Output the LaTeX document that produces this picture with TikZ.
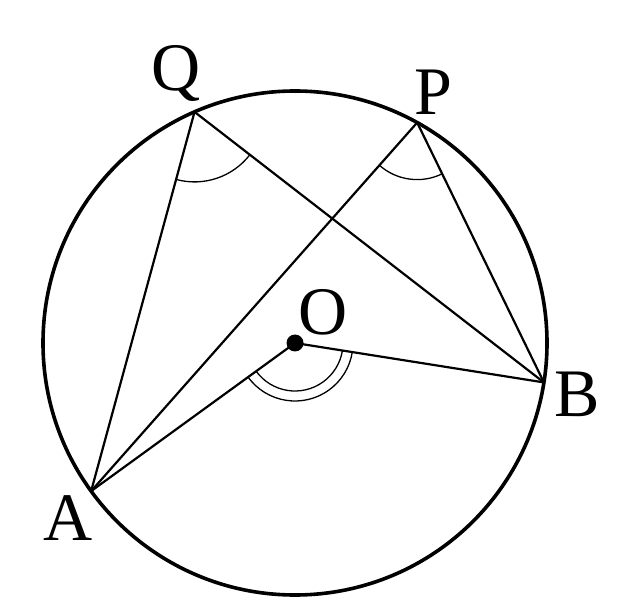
\documentclass[tikz,border=0pt]{standalone}
\usepackage{fontspec}
\setmainfont{Liberation Serif}
\usetikzlibrary{angles}
\begin{document}
\begin{tikzpicture}[x=1pt,y=1pt,
  chord/.style={line width=2.2pt},
  rim/.style={line width=3.6pt},
  anglemark/.style={draw, line width=1.3pt},
  lab/.style={inner sep=0pt, font=\fontsize{68}{80}\selectfont, anchor=base west}]
\useasboundingbox (0,0) rectangle (639,600);
\coordinate (O) at (295,257);
\coordinate (Q) at ([shift={(O)}]113.5:252);
\coordinate (P) at ([shift={(O)}]61:252);
\coordinate (B) at ([shift={(O)}]-9:252);
\coordinate (A) at ([shift={(O)}]216:252);
% chords and radii
\draw[chord] (Q) -- (A);
\draw[chord] (Q) -- (B);
\draw[chord] (P) -- (A);
\draw[chord] (P) -- (B);
\draw[chord] (O) -- (A);
\draw[chord] (O) -- (B);
% angle marks
\pic[anglemark, angle radius=70pt] {angle=A--Q--B};
\pic[anglemark, angle radius=57pt] {angle=A--P--B};
\pic[anglemark, angle radius=48pt] {angle=A--O--B};
\pic[anglemark, angle radius=58pt] {angle=A--O--B};
% circle
\draw[rim] (O) circle[radius=252];
\node[circle, fill, inner sep=0pt, minimum size=17pt] (Odot) at (O) {};
% labels
\node[lab] (Qlab) at (151,509) {Q};
\node[lab] (Plab) at (414,485) {P};
\node[lab] (Olab) at (298,265) {O};
\node[lab] (Alab) at (43,60) {A};
\node[lab] (Blab) at (554,184) {B};
\end{tikzpicture}
\end{document}
